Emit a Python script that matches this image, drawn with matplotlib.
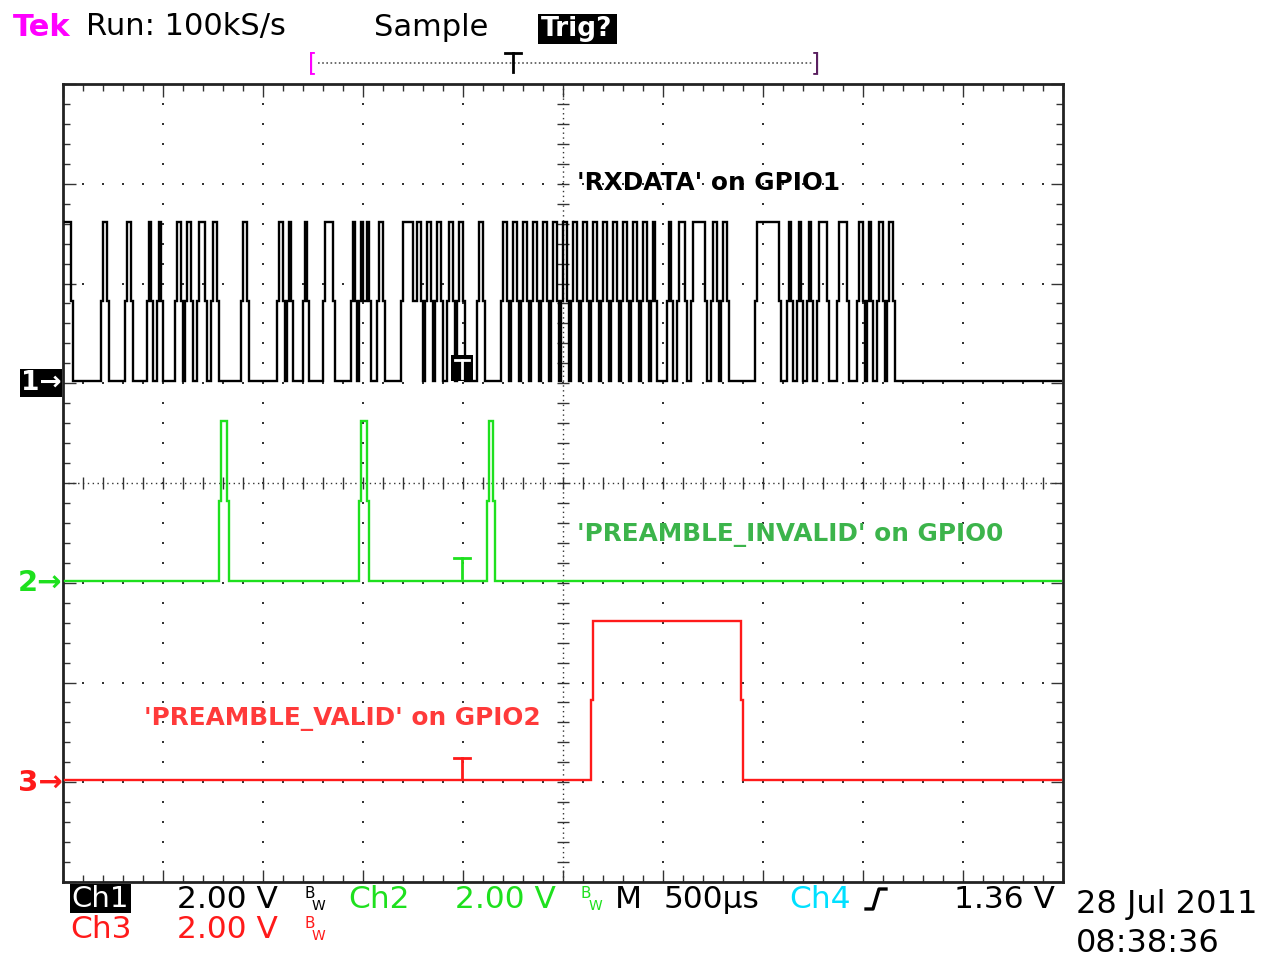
import numpy as np
import matplotlib
matplotlib.use("Agg")
import matplotlib.pyplot as plt
from matplotlib.patches import Rectangle
from matplotlib.lines import Line2D

# ---------------- data (times in microseconds, levels in volts) ----------------
# CH1  'RXDATA' on GPIO1 : rising / falling edge times of each high pulse
ch1_rise_us = [5, 185, 310, 415, 465, 560, 610, 665, 735, 885, 1065, 1115, 1195, 1295,
               1435, 1475, 1505, 1570, 1685, 1760, 1810, 1860, 1920, 1970, 2070, 2185,
               2235, 2285, 2335, 2385, 2435, 2485, 2535, 2590, 2640, 2690, 2740, 2790,
               2840, 2890, 2935, 3020, 3070, 3140, 3240, 3290, 3460, 3615, 3665, 3720,
               3770, 3870, 3970, 4020, 4070, 4120]
ch1_fall_us = [35, 220, 335, 435, 485, 585, 635, 710, 765, 915, 1095, 1140, 1215, 1345,
               1460, 1495, 1530, 1595, 1745, 1790, 1840, 1890, 1945, 1995, 2095, 2215,
               2265, 2315, 2365, 2415, 2465, 2515, 2565, 2615, 2665, 2715, 2765, 2815,
               2865, 2915, 2960, 3040, 3105, 3205, 3265, 3315, 3580, 3640, 3690, 3740,
               3820, 3920, 3995, 4040, 4095, 4145]
# CH2  'PREAMBLE_INVALID' on GPIO0
ch2_rise_us = [780, 1475, 2115]
ch2_fall_us = [815, 1515, 2150]
# CH3  'PREAMBLE_VALID' on GPIO2
ch3_rise_us = [2635]
ch3_fall_us = [3385]

high_level_v = 3.2          # logic high in volts
volts_per_div = 2.0
us_per_div = 500.0
sample_us = 10.0            # 100 kS/s
record_start_us = 10.0
record_end_us = 4985.0

ch_offset_div = {"1": 1.02, "2": -0.98, "3": -2.98}
trigger_us = 1995.0

C_CH1 = "black"
C_CH2 = "#1ee01e"
C_CH3 = "#ff1a1a"
C_CH4 = "#00e0ff"
C_TEK = "#ff00ff"
C_TXT_INV = "#3cb44b"
C_TXT_VAL = "#ff3a3a"

W, H = 1262, 956
fig = plt.figure(figsize=(W / 100, H / 100), dpi=100)
fig.patch.set_facecolor("white")

L, R, T, B = 63, 1063, 84, 882
ax = fig.add_axes([L / W, 1 - B / H, (R - L) / W, (B - T) / H])
ax.set_xlim(0, 10 * us_per_div)
ax.set_ylim(-4, 4)


def sampled(rises, falls):
    t = np.arange(record_start_us, record_end_us + sample_us, sample_us)
    d = np.zeros_like(t)
    for r, f in zip(rises, falls):
        d[(t >= r) & (t < f)] = high_level_v
    v = d.copy()
    ch = np.nonzero(np.diff(d))[0] + 1
    v[ch] = 0.5 * (d[ch] + d[ch - 1])
    return t, v


for key, (ri, fa, col) in {"1": (ch1_rise_us, ch1_fall_us, C_CH1),
                           "2": (ch2_rise_us, ch2_fall_us, C_CH2),
                           "3": (ch3_rise_us, ch3_fall_us, C_CH3)}.items():
    t, v = sampled(ri, fa)
    ax.plot(t, ch_offset_div[key] + v / volts_per_div, color=col, lw=1.7,
            drawstyle="steps-post", zorder=3, solid_joinstyle="miter")

# ---------------- graticule ----------------
gcol = "#333333"
xdiv = np.arange(0, 10.001, 0.2) * us_per_div
ydiv = np.arange(-4, 4.001, 0.2)
for i in range(1, 10):
    if i == 5:
        continue
    ax.plot(np.full_like(ydiv[1:-1], i * us_per_div), ydiv[1:-1], ls="none", marker="s",
            ms=1.5, color=gcol, mew=0, zorder=1)
for j in range(-3, 4):
    if j == 0:
        continue
    ax.plot(xdiv[1:-1], np.full_like(xdiv[1:-1], j), ls="none", marker="s",
            ms=1.5, color=gcol, mew=0, zorder=1)
# centre crosshair
ax.plot([0, 5000], [0, 0], color=gcol, lw=1.0, ls=(0, (1, 2.5)), zorder=1)
ax.plot([2500, 2500], [-4, 4], color=gcol, lw=1.0, ls=(0, (1, 2.5)), zorder=1)
ax.plot(xdiv[1:-1], np.zeros_like(xdiv[1:-1]), ls="none", marker="|", ms=8,
        color=gcol, mew=1.0, zorder=1)
ax.plot(np.full_like(ydiv[1:-1], 2500), ydiv[1:-1], ls="none", marker="_", ms=8,
        color=gcol, mew=1.0, zorder=1)

ax.set_xticks(np.arange(0, 5001, 500))
ax.set_xticks(xdiv, minor=True)
ax.set_yticks(np.arange(-4, 5, 1))
ax.set_yticks(ydiv, minor=True)
ax.tick_params(which="both", direction="in", top=True, right=True,
               labelbottom=False, labelleft=False, color=gcol)
ax.tick_params(which="major", length=9, width=1.0)
ax.tick_params(which="minor", length=5, width=1.0)
for s in ax.spines.values():
    s.set_linewidth(2.0)
    s.set_color("#222222")


# ---------------- helpers in pixel coordinates ----------------
def fx(x):
    return x / W


def fy(y):
    return 1 - y / H


def txt(x, y, s, color="black", size=20, weight="normal", ha="left", va="center", **kw):
    fig.text(fx(x), fy(y), s, color=color, fontsize=size, fontweight=weight,
             ha=ha, va=va, zorder=10, **kw)


def box(x0, y0, x1, y1, color="black"):
    fig.patches.append(Rectangle((fx(x0), fy(y1)), fx(x1) - fx(x0), fy(y0) - fy(y1),
                                 transform=fig.transFigure, facecolor=color,
                                 edgecolor="none", zorder=5))


def line(xs, ys, color="black", lw=1.5, ls="-"):
    fig.add_artist(Line2D([fx(x) for x in xs], [fy(y) for y in ys], color=color,
                          lw=lw, ls=ls, transform=fig.transFigure, zorder=10))


# ---------------- header ----------------
txt(13, 27, "Tek", color=C_TEK, size=22, weight="bold")
txt(86, 27, "Run: 100kS/s", size=22)
txt(374, 27, "Sample", size=22)
box(538, 14, 617, 44)
txt(577, 29, "Trig?", color="white", size=19, weight="bold", ha="center")

line([318, 812], [63, 63], color="#555555", lw=1.2, ls=(0, (1, 1.5)))
txt(313, 63, "[", color=C_TEK, size=17, ha="center")
txt(815, 63, "]", color="#5a2060", size=17, ha="center")
line([505, 521], [53, 53], lw=2)
line([513, 513], [53, 72], lw=2)

# ---------------- channel markers ----------------
box(20, 369, 62, 397)
txt(41, 383, "1→", color="white", size=19, weight="bold", ha="center")
txt(40, 583, "2→", color=C_CH2, size=21, weight="bold", ha="center")
txt(40, 783, "3→", color=C_CH3, size=21, weight="bold", ha="center")

# trigger position markers on traces
tx = L + trigger_us / 5.0
box(tx - 11, 355, tx + 11, 381)
line([tx - 7, tx + 7], [360, 360], color="white", lw=2)
line([tx, tx], [360, 378], color="white", lw=2)
for yy, col in ((558, C_CH2), (758, C_CH3)):
    line([tx - 8, tx + 8], [yy, yy], color=col, lw=2)
    line([tx, tx], [yy, yy + 20], color=col, lw=2)

# ---------------- annotations ----------------
txt(577, 183, "'RXDATA' on GPIO1", size=17.8, weight="bold")
txt(577, 535, "'PREAMBLE_INVALID' on GPIO0", color=C_TXT_INV, size=17.8, weight="bold")
txt(144, 719, "'PREAMBLE_VALID' on GPIO2", color=C_TXT_VAL, size=17.8, weight="bold")

# ---------------- footer ----------------
FS = 22.5
box(70, 884, 131, 913)
txt(100, 899, "Ch1", color="white", size=21, ha="center")
txt(177, 899, "2.00 V", size=FS)
txt(304, 893, "B", size=11)
txt(312, 906, "W", size=10)
txt(348, 899, "Ch2", color=C_CH2, size=FS)
txt(455, 899, "2.00 V", color=C_CH2, size=FS)
txt(581, 893, "B", color=C_CH2, size=11)
txt(589, 906, "W", color=C_CH2, size=10)
txt(615, 899, "M", size=FS)
txt(664, 899, "500µs", size=FS)
txt(789, 899, "Ch4", color=C_CH4, size=FS)
line([866, 873, 879, 886], [909, 909, 889, 889], lw=2.4)
txt(954, 899, "1.36 V", size=FS)

txt(70, 929, "Ch3", color=C_CH3, size=FS)
txt(177, 929, "2.00 V", color=C_CH3, size=FS)
txt(304, 923, "B", color=C_CH3, size=11)
txt(312, 936, "W", color=C_CH3, size=10)

txt(1076, 905, "28 Jul 2011", size=23)
txt(1076, 943, "08:38:36", size=23)

fig.savefig("out.png", dpi=100)
